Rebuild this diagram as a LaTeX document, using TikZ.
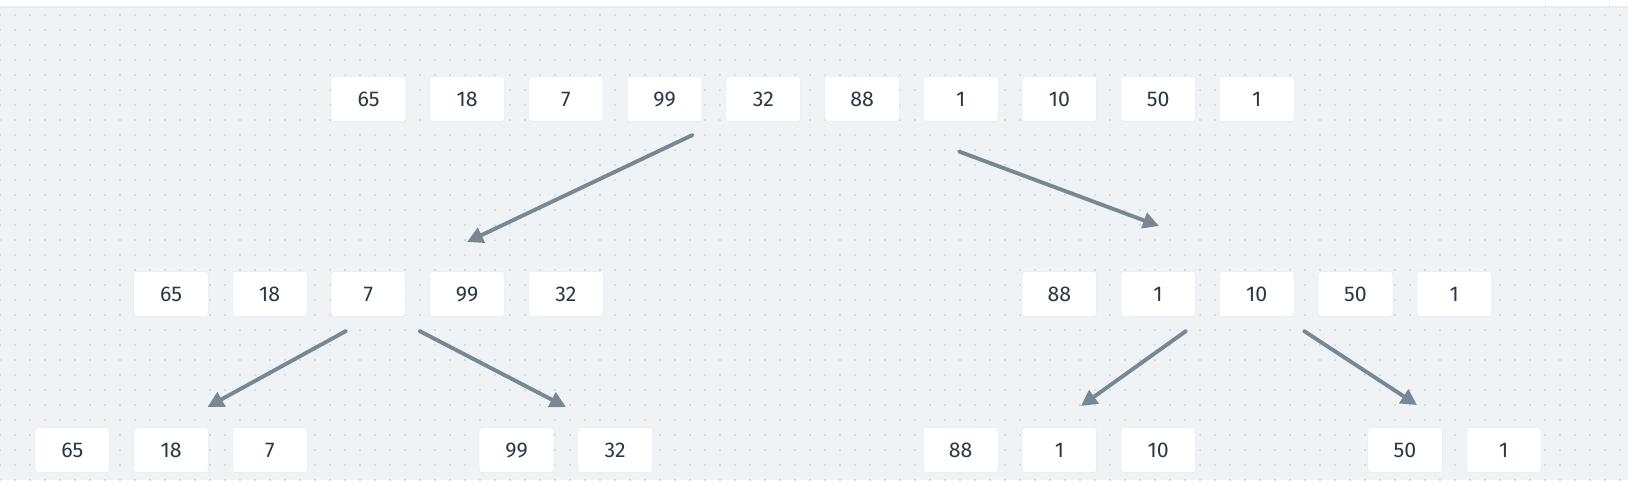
\documentclass[tikz,border=0pt]{standalone}
\usepackage{fontspec}
\setmainfont{Fira Sans}
\usetikzlibrary{arrows.meta}

\definecolor{canvas}{HTML}{EFF3F6}
\definecolor{griddot}{HTML}{BCC4CD}
\definecolor{numtext}{HTML}{2B3744}
\definecolor{splitarrow}{HTML}{7A8793}
\definecolor{boxedge}{HTML}{E6EBEF}

\tikzset{
	cell/.style={fill=white,draw=boxedge,rounded corners=2.5pt,
		minimum width=56pt,minimum height=34pt,inner sep=0pt,
		text=numtext,font=\fontsize{16}{18}\selectfont},
	split/.style={splitarrow,line width=2.9pt,line cap=round,
		-{Triangle[length=12pt,width=12pt]}}
}

\begin{document}
\begin{tikzpicture}[x=0.75pt,y=-0.75pt]
	\useasboundingbox (0,0) rectangle (1628,480);
	
	% Canvas and dot grid
	\fill[canvas] (0,0) rectangle (1628,480);
	\foreach \gx in {0,15,...,1620}
		\foreach \gy in {15,30,...,480}
			\fill[griddot] (\gx,\gy) circle (0.7pt);
	
	% Top strip
	\fill[white] (0,0) rectangle (1628,6);
	\fill[boxedge] (0,6) rectangle (1628,7.5);
	\draw[boxedge,line width=0.75pt] (1545,0) -- (1545,6);
	\draw[boxedge,line width=0.75pt] (1609,0) -- (1609,6);
	
	% Whole array
	\foreach \v [count=\i from 0] in {65,18,7,99,32,88,1,10,50,1}
		\node[cell] (t\i) at ({368.5+98.7*\i},99) {\v};
	
	% First split
	\foreach \v [count=\i from 0] in {65,18,7,99,32}
		\node[cell] (ml\i) at ({171+98.7*\i},294) {\v};
	\foreach \v [count=\i from 0] in {88,1,10,50,1}
		\node[cell] (mr\i) at ({1059.4+98.7*\i},294) {\v};
	
	% Second split
	\foreach \v [count=\i from 0] in {65,18,7}
		\node[cell] (bla\i) at ({72.4+98.7*\i},450) {\v};
	\foreach \v [count=\i from 0] in {99,32}
		\node[cell] (blb\i) at ({516.5+98.7*\i},450) {\v};
	\foreach \v [count=\i from 0] in {88,1,10}
		\node[cell] (bra\i) at ({960.7+98.7*\i},450) {\v};
	\foreach \v [count=\i from 0] in {50,1}
		\node[cell] (brb\i) at ({1405+98.7*\i},450) {\v};
	
	% Arrow ends
	\coordinate (s1) at (692.5,135);  \coordinate (e1) at (467,242);
	\coordinate (s2) at (959,151.5);  \coordinate (e2) at (1159,226);
	\coordinate (s3) at (346,331);    \coordinate (e3) at (207.5,407);
	\coordinate (s4) at (419.5,331);  \coordinate (e4) at (566,407);
	\coordinate (s5) at (1186,331);   \coordinate (e5) at (1081,406);
	\coordinate (s6) at (1304,331);   \coordinate (e6) at (1417,405);
	
	% Splits
	\foreach \k in {1,...,6}
		\draw[split] (s\k) -- (e\k);
	
\end{tikzpicture}
\end{document}
